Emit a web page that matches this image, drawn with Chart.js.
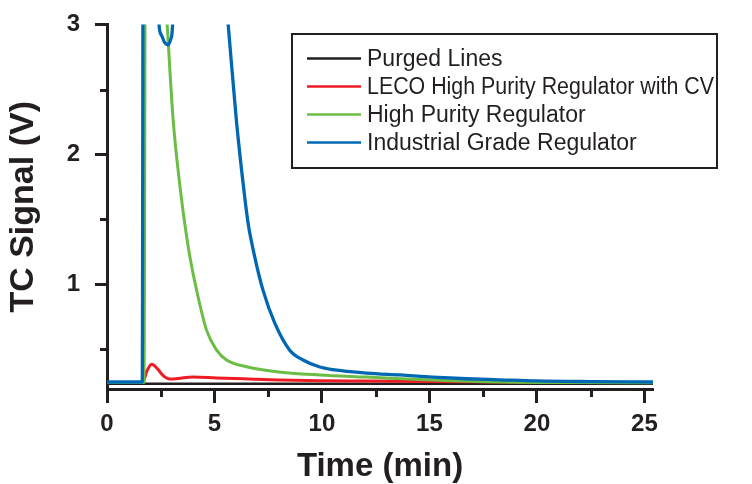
<!DOCTYPE html>
<html>
<head>
<meta charset="utf-8">
<script src="https://cdn.jsdelivr.net/npm/chart.js@4.4.1/dist/chart.umd.min.js"></script>
<style>
  html, body { margin: 0; padding: 0; background: #ffffff; }
  #wrap { width: 752px; height: 484px; }
</style>
</head>
<body>
<div id="wrap"><canvas id="chart" width="752" height="484"></canvas></div>
<script>
// ---------------- data ----------------
const seriesNames = [
  'Purged Lines',
  'LECO High Purity Regulator with CV',
  'High Purity Regulator',
  'Industrial Grade Regulator'
];

const purgedTime   = [0, 25.4];
const purgedSignal = [0.236, 0.236];

const lecoTime   = [0, 1.66, 1.85, 2.08, 2.35, 2.6, 2.93, 3.3, 4.0, 5.1, 6.6, 8.0, 9.9, 12.1, 15.0, 18.3, 22.0, 25.4];
const lecoSignal = [0.245, 0.245, 0.33, 0.385, 0.35, 0.30, 0.272, 0.276, 0.287, 0.280, 0.272, 0.265, 0.258, 0.256, 0.252, 0.249, 0.247, 0.245];

const highPurityTime   = [0, 1.72, 1.80, 2.40, 2.60, 2.78, 3.08, 3.42, 3.62, 3.86, 4.17, 4.63, 5.10, 5.56, 6.49, 7.89, 9.90, 12.08, 15.15, 18.26, 22.0, 25.4];
const highPuritySignal = [0.245, 0.245, 4.5, 4.5, 3.5, 3.05, 2.26, 1.72, 1.465, 1.21, 0.954, 0.648, 0.494, 0.418, 0.366, 0.328, 0.303, 0.287, 0.264, 0.249, 0.245, 0.243];

const industrialTime   = [0, 1.64, 1.69, 2.20, 2.42, 2.53, 2.69, 2.85, 2.97, 3.05, 3.20, 4.90, 5.30, 5.64, 6.02, 6.41, 6.57, 6.88, 7.26, 7.81, 8.50, 9.12, 9.90, 10.50, 12.08, 13.62, 15.15, 16.73, 18.26, 19.98, 22.5, 25.4];
const industrialSignal = [0.249, 0.249, 4.5, 4.5, 3.0, 2.92, 2.86, 2.845, 2.89, 3.0, 4.5, 4.5, 3.6, 2.995, 2.26, 1.667, 1.465, 1.207, 0.954, 0.70, 0.494, 0.418, 0.364, 0.345, 0.318, 0.303, 0.287, 0.274, 0.266, 0.257, 0.252, 0.249];

const xTickValues = [0, 5, 10, 15, 20, 25];
const xMinorTickValues = [2.5, 7.5, 12.5, 17.5, 22.5];
const yTickValues = [1, 2, 3];
const yMinorTickValues = [0.5, 1.5, 2.5];

// ---------------- styling ----------------
const INK = '#231f20';
const FONT = "'Liberation Sans', Arial, Helvetica, sans-serif";
const COLORS = [INK, '#ed1c24', '#6cbd45', '#0068b3'];

function toPoints(t, s) { return t.map((x, i) => ({ x: x, y: s[i] })); }

const minorTicksPlugin = {
  id: 'minorTicks',
  afterDraw(chart) {
    const { ctx, chartArea } = chart;
    const xs = chart.scales.x, ys = chart.scales.y;
    ctx.save();
    ctx.strokeStyle = INK;
    ctx.lineWidth = 3;
    ctx.lineCap = 'butt';
    xMinorTickValues.forEach(v => {
      const px = Math.round(xs.getPixelForValue(v)) + 0.5;
      ctx.beginPath();
      ctx.moveTo(px, chartArea.bottom);
      ctx.lineTo(px, chartArea.bottom + 8);
      ctx.stroke();
    });
    yMinorTickValues.forEach(v => {
      const py = Math.round(ys.getPixelForValue(v)) + 0.5;
      ctx.beginPath();
      ctx.moveTo(chartArea.left, py);
      ctx.lineTo(chartArea.left - 7, py);
      ctx.stroke();
    });
    ctx.restore();
  }
};

const legendBoxPlugin = {
  id: 'legendBox',
  afterDraw(chart) {
    const ctx = chart.ctx;
    const box = { left: 292, top: 34, right: 717, bottom: 168 };
    ctx.save();
    ctx.fillStyle = '#ffffff';
    ctx.fillRect(box.left, box.top, box.right - box.left, box.bottom - box.top);
    ctx.strokeStyle = INK;
    ctx.lineWidth = 2;
    ctx.strokeRect(box.left, box.top, box.right - box.left, box.bottom - box.top);
    const lineX0 = 307, lineX1 = 361, textX = 367, firstRow = 58.5, rowStep = 28;
    ctx.font = '23px ' + FONT;
    ctx.textBaseline = 'middle';
    ctx.textAlign = 'left';
    chart.data.datasets.forEach((ds, i) => {
      const y = firstRow + i * rowStep;
      ctx.strokeStyle = ds.borderColor;
      ctx.lineWidth = 2.5;
      ctx.beginPath();
      ctx.moveTo(lineX0, y);
      ctx.lineTo(lineX1, y);
      ctx.stroke();
      ctx.fillStyle = INK;
      ctx.fillText(ds.label, textX, y + 1, box.right - textX - 3);
    });
    ctx.restore();
  }
};

new Chart(document.getElementById('chart'), {
  type: 'line',
  data: {
    datasets: [
      { label: seriesNames[0], data: toPoints(purgedTime, purgedSignal), borderColor: COLORS[0], borderWidth: 2.5, order: 3 },
      { label: seriesNames[1], data: toPoints(lecoTime, lecoSignal), borderColor: COLORS[1], borderWidth: 3, order: 2 },
      { label: seriesNames[2], data: toPoints(highPurityTime, highPuritySignal), borderColor: COLORS[2], borderWidth: 3, order: 1 },
      { label: seriesNames[3], data: toPoints(industrialTime, industrialSignal), borderColor: COLORS[3], borderWidth: 3.3, order: 0 }
    ]
  },
  options: {
    responsive: false,
    animation: false,
    devicePixelRatio: 1,
    elements: {
      point: { radius: 0, hoverRadius: 0 },
      line: { cubicInterpolationMode: 'monotone', fill: false, borderJoinStyle: 'round' }
    },
    layout: { padding: { left: 0, top: 23, right: 99, bottom: 0 } },
    plugins: { legend: { display: false }, tooltip: { enabled: false } },
    scales: {
      x: {
        type: 'linear', min: 0, max: 25.4,
        afterBuildTicks: s => { s.ticks = xTickValues.map(v => ({ value: v })); },
        afterFit: s => { s.height = 95; },
        grid: { display: true, drawOnChartArea: false, drawTicks: true, tickLength: 14, tickWidth: 3, tickColor: INK },
        border: { display: true, width: 3, color: INK },
        ticks: { color: INK, font: { family: FONT, size: 24, weight: 'bold' }, padding: 7, maxRotation: 0, autoSkip: false, callback: v => String(v) },
        title: { display: true, text: 'Time (min)', color: INK, font: { family: FONT, size: 33, weight: 'bold', lineHeight: 1 }, padding: { top: 0, bottom: 0.5 } }
      },
      y: {
        type: 'linear', min: 0.195, max: 3,
        afterBuildTicks: s => { s.ticks = yTickValues.map(v => ({ value: v })); },
        afterFit: s => { s.width = 107; },
        grid: { display: true, drawOnChartArea: false, drawTicks: true, tickLength: 12, tickWidth: 3, tickColor: INK },
        border: { display: true, width: 3, color: INK },
        ticks: { color: INK, font: { family: FONT, size: 24, weight: 'bold', lineHeight: 0.8 }, padding: 15, callback: v => String(v) },
        title: { display: true, text: 'TC Signal (V)', color: INK, font: { family: FONT, size: 34, weight: 'bold', lineHeight: 1 }, padding: { top: 7, bottom: 0 } }
      }
    }
  },
  plugins: [minorTicksPlugin, legendBoxPlugin]
});
</script>
</body>
</html>
